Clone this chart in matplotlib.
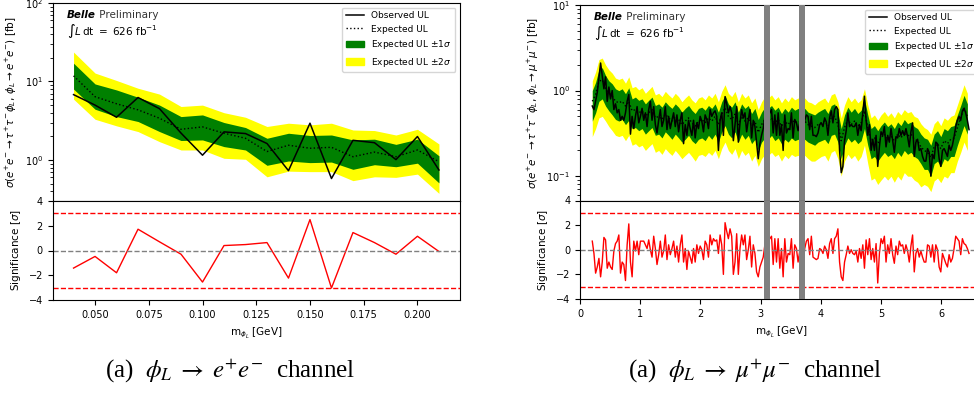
import matplotlib
matplotlib.use("Agg")
import matplotlib.pyplot as plt
import numpy as np
from matplotlib.lines import Line2D
from matplotlib.patches import Patch

# ---- phi_L -> e+e- channel ----
mass_ee = [0.04, 0.05, 0.06, 0.07, 0.08, 0.09, 0.10, 0.11, 0.12,
           0.13, 0.14, 0.15, 0.16, 0.17, 0.18, 0.19, 0.20, 0.21]
obs_ee = [6.8, 5.0, 3.5, 6.25, 4.5, 2.2, 1.15, 2.28, 2.17,
          1.62, 0.73, 2.94, 0.58, 1.78, 1.66, 1.01, 1.99, 0.745]
exp_ee = [11.8, 6.4, 5.2, 4.35, 3.4, 2.46, 2.64, 2.19, 1.89,
          1.28, 1.54, 1.41, 1.45, 1.10, 1.26, 1.10, 1.34, 0.95]
g_hi_ee = [17.1, 9.3, 7.8, 6.3, 5.0, 3.57, 3.75, 3.0, 2.59,
           1.89, 2.19, 2.05, 2.08, 1.8, 1.84, 1.58, 1.84, 1.13]
g_lo_ee = [8.0, 4.43, 3.57, 3.09, 2.3, 1.77, 1.8, 1.48, 1.34,
           0.855, 0.97, 0.925, 0.94, 0.76, 0.87, 0.82, 0.91, 0.51]
y_hi_ee = [23.7, 12.8, 10.3, 8.2, 6.9, 4.8, 5.0, 4.0, 3.5,
           2.67, 2.94, 2.8, 2.94, 2.41, 2.37, 2.08, 2.46, 1.6]
y_lo_ee = [5.95, 3.3, 2.72, 2.3, 1.71, 1.34, 1.34, 1.05, 1.02,
           0.61, 0.72, 0.71, 0.71, 0.545, 0.61, 0.60, 0.66, 0.375]
sig_ee = [-1.42, -0.48, -1.8, 1.72, 0.7, -0.3, -2.55, 0.4, 0.48,
          0.64, -2.23, 2.5, -3.03, 1.45, 0.64, -0.3, 1.15, -0.08]

# ---- phi_L -> mu+mu- channel (uniform mass scan) ----
mu_start = 0.204
mu_step = 0.02755

obs_mu = [
    0.66, 0.60, 0.75, 0.95, 1.4, 2.1, 1.5, 1.05, 1.45, 0.75,
    1.1, 0.8, 1.0, 0.6, 0.7, 0.55, 0.6, 0.45, 0.5, 0.45,
    0.55, 0.75, 0.9, 0.31, 0.5, 0.36, 0.5, 0.65, 0.42, 0.5,
    0.62, 0.45, 0.55, 0.38, 0.6, 0.75, 0.45, 0.65, 0.4, 0.32,
    0.45, 0.6, 0.38, 0.45, 0.65, 0.35, 0.5, 0.36, 0.45, 0.55,
    0.38, 0.52, 0.33, 0.45, 0.55, 0.24, 0.4, 0.3, 0.45, 0.36,
    0.3, 0.45, 0.28, 0.42, 0.36, 0.5, 0.44, 0.33, 0.52, 0.46,
    0.36, 0.6, 0.5, 0.55, 0.58, 0.5, 0.2, 0.45, 0.55, 0.3,
    0.85, 0.7, 0.55, 0.65, 0.55, 0.26, 0.4, 0.65, 0.25, 0.42,
    0.6, 0.48, 0.55, 0.33, 0.45, 0.6, 0.28, 0.45, 0.38, 0.25,
    0.16, 0.24, 0.3, 0.36, 0.5, 0.42, 0.5, 0.55, 0.6, 0.32,
    0.52, 0.3, 0.55, 0.3, 0.4, 0.2, 0.52, 0.32, 0.36, 0.35,
    0.55, 0.28, 0.46, 0.42, 0.34, 0.42, 0.46, 0.34, 0.45, 0.52,
    0.5, 0.35, 0.5, 0.3, 0.3, 0.29, 0.32, 0.4, 0.42, 0.38,
    0.48, 0.43, 0.3, 0.48, 0.58, 0.42, 0.6, 0.65, 0.6, 0.2,
    0.11, 0.13, 0.26, 0.34, 0.55, 0.38, 0.4, 0.38, 0.38, 0.42,
    0.3, 0.4, 0.34, 0.55, 0.86, 0.45, 0.3, 0.4, 0.2, 0.27,
    0.2, 0.3, 0.13, 0.22, 0.33, 0.3, 0.38, 0.22, 0.3, 0.25,
    0.36, 0.26, 0.19, 0.29, 0.28, 0.36, 0.3, 0.34, 0.3, 0.36,
    0.29, 0.22, 0.33, 0.42, 0.17, 0.25, 0.27, 0.2, 0.21, 0.17,
    0.15, 0.15, 0.21, 0.19, 0.10, 0.18, 0.16, 0.25, 0.24, 0.16,
    0.13, 0.2, 0.21, 0.19, 0.17, 0.23, 0.2, 0.23, 0.29, 0.38,
    0.45, 0.5, 0.45, 0.58, 0.62, 0.55, 0.45, 0.35,
]
sig_mu = [
    0.7, -0.3, -1.9, -1.4, -0.7, -2.2, -1.0, 1.0, 0.8, -1.5,
    -1.0, -1.4, -1.6, -0.1, 0.5, 0.7, 1.2, -1.9, -1.0, -1.2,
    -2.5, 0.4, 2.1, -1.0, -2.2, 0.7, -0.1, 0.7, -0.4, 0.7,
    0.7, 0.7, 0.4, 0.1, 0.8, 0.0, -0.6, 1.1, 0.1, -1.2,
    -0.4, 0.7, -0.6, -0.1, 1.2, -0.8, 0.4, -0.4, 0.1, 0.7,
    -0.6, 0.3, -1.0, 0.4, 1.2, -1.0, 0.1, -1.6, -0.1, -0.6,
    -1.1, 0.1, -1.0, 0.4, -0.3, 0.3, 0.0, -0.8, 0.7, 0.4,
    -0.6, 1.2, 0.4, 0.9, 0.7, 0.8, -0.3, 1.2, 0.4, -2.0,
    2.2, 1.5, 0.9, 1.7, 1.1, -2.0, -1.0, 1.3, -2.0, 0.1,
    1.2, 0.4, 1.2, -0.8, 0.0, 1.1, -1.4, 0.4, -0.3, -1.8,
    -2.2, -1.4, -1.0, -0.6, 0.4, -0.1, 0.7, 0.9, 1.1, -1.2,
    0.9, -1.0, 0.9, -1.5, 0.1, -2.2, 0.9, -1.0, -0.3, -0.4,
    0.9, -1.5, 0.4, 0.1, -1.0, -0.1, 0.4, -0.7, 0.1, 0.7,
    0.9, -0.4, 1.1, -0.6, -0.7, -0.8, -0.7, 0.1, 0.0, -0.3,
    0.3, 0.0, -0.7, 0.5, 0.9, -0.3, 0.9, 1.1, 1.7, -1.0,
    -2.2, -2.5, -1.0, -0.4, 0.3, -0.3, 0.0, -0.3, -0.4, -0.1,
    -1.0, 0.1, -0.7, 0.4, -1.5, 0.8, -0.4, 0.9, -0.8, 0.1,
    -1.0, 0.5, -2.7, -0.3, 0.9, 0.5, 1.1, -1.0, 0.4, -0.3,
    0.9, -0.4, -1.1, 0.3, -0.4, 0.7, 0.3, 0.4, -0.3, 0.4,
    -0.1, -1.0, 0.3, 1.2, -1.8, -0.3, 0.1, -0.6, -0.1, -0.6,
    -1.0, -1.0, 0.4, 0.3, -0.6, 0.4, -1.0, 0.4, 0.0, -1.4,
    -1.8, -0.3, -0.7, -1.1, -1.4, -0.4, -1.0, -0.7, 0.1, 1.1,
    0.9, 0.7, -0.4, 0.9, 0.5, 0.4, 0.1, -0.3,
]
# expected limit and bands, every second scan point
exp_mu = [
    0.75, 0.90, 1.28, 1.34, 1.07, 0.94, 0.86, 0.75, 0.72, 0.75,
    0.66, 0.75, 0.58, 0.60, 0.55, 0.58, 0.50, 0.55, 0.60, 0.48,
    0.50, 0.46, 0.53, 0.48, 0.44, 0.50, 0.46, 0.40, 0.44, 0.48,
    0.42, 0.385, 0.44, 0.46, 0.42, 0.48, 0.44, 0.50, 0.40, 0.53,
    0.63, 0.50, 0.46, 0.53, 0.40, 0.50, 0.44, 0.48, 0.385, 0.44,
    0.325, 0.40, 0.46, 0.44, 0.48, 0.42, 0.46, 0.385, 0.44, 0.40,
    0.46, 0.42, 0.44, 0.42, 0.44, 0.40, 0.385, 0.37, 0.40, 0.42,
    0.44, 0.385, 0.48, 0.50, 0.40, 0.26, 0.37, 0.46, 0.40, 0.44,
    0.385, 0.42, 0.58, 0.37, 0.26, 0.28, 0.24, 0.28, 0.31, 0.27,
    0.295, 0.26, 0.31, 0.28, 0.325, 0.295, 0.31, 0.27, 0.26, 0.22,
    0.20, 0.19, 0.166, 0.22, 0.24, 0.21, 0.26, 0.24, 0.27, 0.28,
    0.37, 0.48, 0.63, 0.50,
]
g_hi_mu = [
    1.0, 1.25, 1.75, 1.85, 1.5, 1.3, 1.2, 1.05, 1.0, 1.05,
    0.92, 1.08, 0.8, 0.84, 0.77, 0.8, 0.7, 0.77, 0.84, 0.67,
    0.7, 0.64, 0.74, 0.67, 0.62, 0.7, 0.64, 0.56, 0.62, 0.67,
    0.59, 0.54, 0.62, 0.64, 0.59, 0.67, 0.62, 0.7, 0.56, 0.74,
    0.88, 0.7, 0.64, 0.74, 0.56, 0.7, 0.62, 0.67, 0.54, 0.62,
    0.46, 0.56, 0.64, 0.62, 0.67, 0.59, 0.64, 0.54, 0.62, 0.56,
    0.64, 0.59, 0.62, 0.59, 0.62, 0.56, 0.54, 0.52, 0.56, 0.59,
    0.62, 0.54, 0.67, 0.7, 0.56, 0.36, 0.52, 0.64, 0.56, 0.62,
    0.54, 0.59, 0.8, 0.52, 0.36, 0.39, 0.34, 0.39, 0.43, 0.38,
    0.41, 0.36, 0.43, 0.39, 0.46, 0.41, 0.43, 0.38, 0.36, 0.31,
    0.28, 0.27, 0.23, 0.31, 0.34, 0.29, 0.36, 0.34, 0.38, 0.39,
    0.52, 0.67, 0.88, 0.7,
]
g_lo_mu = [
    0.44, 0.55, 0.75, 0.8, 0.66, 0.58, 0.52, 0.46, 0.44, 0.46,
    0.4, 0.45, 0.36, 0.37, 0.34, 0.36, 0.31, 0.34, 0.37, 0.3,
    0.31, 0.28, 0.33, 0.3, 0.27, 0.31, 0.28, 0.25, 0.27, 0.3,
    0.26, 0.24, 0.27, 0.28, 0.26, 0.3, 0.27, 0.31, 0.25, 0.33,
    0.39, 0.31, 0.28, 0.33, 0.25, 0.31, 0.27, 0.3, 0.24, 0.27,
    0.2, 0.25, 0.28, 0.27, 0.3, 0.26, 0.28, 0.24, 0.27, 0.25,
    0.28, 0.26, 0.27, 0.26, 0.27, 0.25, 0.24, 0.23, 0.25, 0.26,
    0.27, 0.24, 0.3, 0.31, 0.25, 0.16, 0.23, 0.28, 0.25, 0.27,
    0.24, 0.26, 0.36, 0.23, 0.16, 0.17, 0.15, 0.17, 0.19, 0.17,
    0.18, 0.16, 0.19, 0.17, 0.2, 0.18, 0.19, 0.17, 0.16, 0.14,
    0.12, 0.12, 0.1, 0.14, 0.15, 0.13, 0.16, 0.15, 0.17, 0.17,
    0.23, 0.3, 0.39, 0.31,
]
y_hi_mu = [
    1.3, 1.65, 2.3, 2.4, 2.0, 1.75, 1.6, 1.4, 1.35, 1.4,
    1.22, 1.45, 1.08, 1.12, 1.02, 1.08, 0.93, 1.02, 1.12, 0.89,
    0.93, 0.85, 0.98, 0.89, 0.82, 0.93, 0.85, 0.74, 0.82, 0.89,
    0.78, 0.72, 0.82, 0.85, 0.78, 0.89, 0.82, 0.93, 0.74, 0.98,
    1.17, 0.93, 0.85, 0.98, 0.74, 0.93, 0.82, 0.89, 0.72, 0.82,
    0.6, 0.74, 0.85, 0.82, 0.89, 0.78, 0.85, 0.72, 0.82, 0.74,
    0.85, 0.78, 0.82, 0.78, 0.82, 0.74, 0.72, 0.68, 0.74, 0.78,
    0.82, 0.72, 0.89, 0.93, 0.74, 0.48, 0.68, 0.85, 0.74, 0.82,
    0.72, 0.78, 1.05, 0.68, 0.48, 0.52, 0.45, 0.52, 0.57, 0.5,
    0.55, 0.48, 0.57, 0.52, 0.6, 0.55, 0.57, 0.5, 0.48, 0.41,
    0.37, 0.35, 0.31, 0.41, 0.45, 0.39, 0.48, 0.45, 0.5, 0.52,
    0.68, 0.89, 1.17, 0.93,
]
y_lo_mu = [
    0.29, 0.36, 0.48, 0.5, 0.44, 0.38, 0.34, 0.3, 0.29, 0.3,
    0.26, 0.3, 0.23, 0.24, 0.22, 0.23, 0.2, 0.22, 0.24, 0.19,
    0.2, 0.18, 0.21, 0.19, 0.175, 0.2, 0.18, 0.16, 0.175, 0.19,
    0.17, 0.15, 0.175, 0.18, 0.17, 0.19, 0.175, 0.2, 0.16, 0.21,
    0.25, 0.2, 0.18, 0.21, 0.16, 0.2, 0.175, 0.19, 0.15, 0.175,
    0.13, 0.16, 0.18, 0.175, 0.19, 0.17, 0.18, 0.15, 0.175, 0.16,
    0.18, 0.17, 0.175, 0.17, 0.175, 0.16, 0.15, 0.15, 0.16, 0.17,
    0.175, 0.15, 0.19, 0.2, 0.16, 0.1, 0.15, 0.18, 0.16, 0.175,
    0.15, 0.17, 0.23, 0.14, 0.09, 0.095, 0.08, 0.09, 0.1, 0.09,
    0.1, 0.085, 0.1, 0.09, 0.11, 0.1, 0.1, 0.09, 0.085, 0.075,
    0.08, 0.076, 0.066, 0.088, 0.095, 0.084, 0.1, 0.095, 0.11, 0.11,
    0.15, 0.19, 0.25, 0.2,
]
vetoes = [(3.047, 3.147), (3.636, 3.736)]

mass_mu = mu_start + mu_step * np.arange(len(obs_mu))
mass_mu_band = mu_start + 2 * mu_step * np.arange(len(exp_mu))

W, H = 974, 394


def box(x0, x1, y0, y1):
    # pixel box -> figure fraction
    return [x0 / W, 1 - y1 / H, (x1 - x0) / W, (y1 - y0) / H]


def draw_channel(ax_ul, ax_sig, m_band, ylo, yhi, glo, ghi, exp, m_obs, obs, sig, ylabel):
    ax_ul.fill_between(m_band, ylo, yhi, color="yellow", lw=0)
    ax_ul.fill_between(m_band, glo, ghi, color="green", lw=0)
    ax_ul.plot(m_band, exp, color="black", ls=":", lw=1.0)
    ax_ul.plot(m_obs, obs, color="black", lw=1.1)
    ax_ul.set_yscale("log")
    ax_ul.set_ylabel(ylabel, fontsize=7.5)
    ax_ul.tick_params(labelsize=7, which="both")
    ax_ul.tick_params(axis="x", bottom=False, labelbottom=False, which="both")

    handles = [
        Line2D([], [], color="black", lw=1.1),
        Line2D([], [], color="black", ls=":", lw=1.0),
        Patch(color="green"),
        Patch(color="yellow"),
    ]
    labels = ["Observed UL", "Expected UL",
              r"Expected UL $\pm 1\sigma$", r"Expected UL $\pm 2\sigma$"]
    ax_ul.legend(handles, labels, loc="upper right", fontsize=6.5)

    t = ax_ul.text(0.035, 0.965, "Belle", transform=ax_ul.transAxes,
                   fontsize=7.5, fontweight="bold", fontstyle="italic", va="top")
    ax_ul.annotate(" Preliminary", xy=(1, 0), xycoords=t, fontsize=7.5,
                   color="#333333", va="bottom")
    ax_ul.text(0.035, 0.905, r"$\int L\,\mathrm{dt}\ =\ 626\ \mathrm{fb}^{-1}$",
               transform=ax_ul.transAxes, fontsize=7.5, va="top")

    ax_sig.plot(m_obs, sig, color="red", lw=1.0)
    ax_sig.axhline(3, color="red", ls="--", lw=1.0)
    ax_sig.axhline(-3, color="red", ls="--", lw=1.0)
    ax_sig.axhline(0, color="grey", ls="--", lw=1.0)
    ax_sig.set_ylim(-4, 4)
    ax_sig.set_yticks([-4, -2, 0, 2, 4])
    ax_sig.set_ylabel(r"Significance [$\sigma$]", fontsize=7.5)
    ax_sig.set_xlabel(r"m$_{\phi_L}$ [GeV]", fontsize=7.5)
    ax_sig.tick_params(labelsize=7)


fig = plt.figure(figsize=(W / 100, H / 100), dpi=100)

# left: e+e-
ax1 = fig.add_axes(box(52.7, 460, 3, 201))
ax2 = fig.add_axes(box(52.7, 460, 201, 300), sharex=ax1)
draw_channel(ax1, ax2, mass_ee, y_lo_ee, y_hi_ee, g_lo_ee, g_hi_ee, exp_ee,
             mass_ee, obs_ee, sig_ee,
             r"$\sigma(e^{+}e^{-}\to\tau^{+}\tau^{-}\phi_L,\,\phi_L\to e^{+}e^{-})$ [fb]")
ax1.set_ylim(0.3, 100)
ax2.set_xlim(0.0303, 0.2198)
ax2.set_xticks([0.05, 0.075, 0.1, 0.125, 0.15, 0.175, 0.2])
ax2.set_xticklabels(["%.3f" % v for v in [0.05, 0.075, 0.1, 0.125, 0.15, 0.175, 0.2]])
fig.align_ylabels([ax1, ax2])

# right: mu+mu-
ax3 = fig.add_axes(box(580, 983, 5, 200.5))
ax4 = fig.add_axes(box(580, 983, 200.5, 299), sharex=ax3)
draw_channel(ax3, ax4, mass_mu_band, y_lo_mu, y_hi_mu, g_lo_mu, g_hi_mu, exp_mu,
             mass_mu, obs_mu, sig_mu,
             r"$\sigma(e^{+}e^{-}\to\tau^{+}\tau^{-}\phi_L,\,\phi_L\to\mu^{+}\mu^{-})$ [fb]")
ax3.set_ylim(0.052, 10)
ax4.set_xlim(0, 6.69)
ax4.set_xticks([0, 1, 2, 3, 4, 5, 6])
for ax in (ax3, ax4):
    for lo, hi in vetoes:
        ax.axvspan(lo, hi, color="grey", lw=0, zorder=5)
fig.align_ylabels([ax3, ax4])

cap_kw = dict(fontsize=18, family="Liberation Serif", math_fontfamily="stix",
              ha="center", va="center")
fig.text(0.236, 0.058, r"(a)  $\phi_L\;\rightarrow\;e^{+}e^{-}$  channel", **cap_kw)
fig.text(0.775, 0.058, r"(a)  $\phi_L\;\rightarrow\;\mu^{+}\mu^{-}$  channel", **cap_kw)

fig.savefig("out.png", dpi=100)
